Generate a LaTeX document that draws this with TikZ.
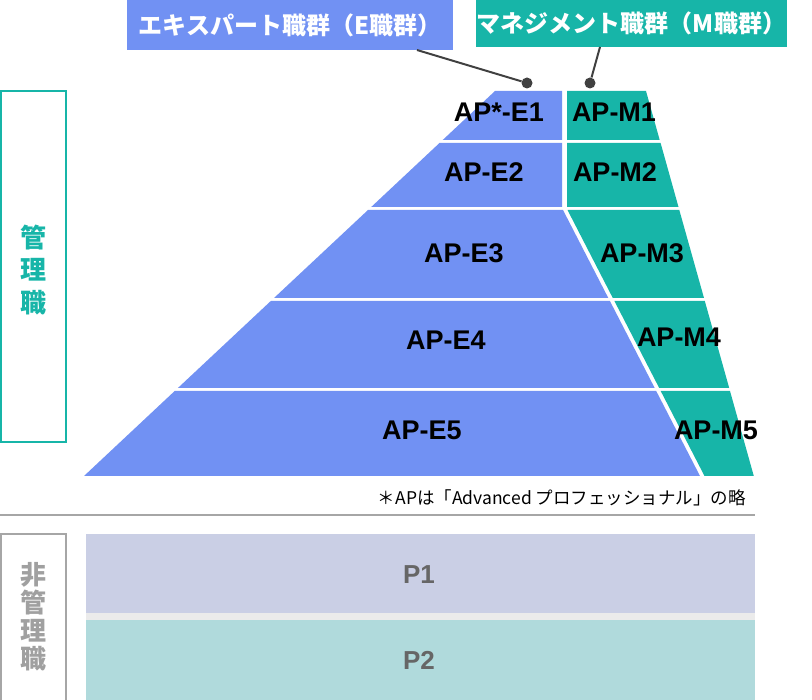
\documentclass[tikz,border=0pt]{standalone}
\usepackage{fontspec}
\setmainfont{Liberation Sans}
\newfontfamily\jp{Noto Sans CJK JP}
\definecolor{eblue}{RGB}{113,145,243}
\definecolor{mteal}{RGB}{23,181,168}
\definecolor{dk}{RGB}{64,64,64}
\definecolor{pone}{RGB}{202,207,229}
\definecolor{ptwo}{RGB}{176,218,220}
\definecolor{pgap}{RGB}{235,235,235}
\definecolor{gline}{RGB}{166,166,166}
\definecolor{ptext}{RGB}{102,102,102}
\definecolor{ntext}{RGB}{160,160,160}
\begin{document}
\begin{tikzpicture}[x=1pt,y=-1pt,
  aplab/.style={font=\fontsize{27}{30}\selectfont\bfseries, text=black, inner sep=0pt},
  hdr/.style={font=\jp\bfseries\fontsize{24}{28}\selectfont, text=white, inner sep=0pt},
  dotnode/.style={circle, fill=dk, inner sep=0pt, minimum size=11pt},
  conn/.style={draw=dk, line width=2pt},
  vlab/.style={font=\jp\bfseries\fontsize{26}{32.5}\selectfont, align=center, inner sep=0pt},
  plab/.style={font=\fontsize{26}{30}\selectfont\bfseries, text=ptext, inner sep=0pt}]
\useasboundingbox (0,0) rectangle (812,700);

% ---- pyramid: expert (blue) ----
\fill[eblue] (495,91) -- (562,91) -- (562,140) -- (442.7,140) -- cycle;
\fill[eblue] (439.5,143) -- (562,143) -- (562,207) -- (371.2,207) -- cycle;
\fill[eblue] (368,210) -- (563,210) -- (608.3,298) -- (274,298) -- cycle;
\fill[eblue] (270.8,301) -- (609.9,301) -- (654.7,388) -- (177.9,388) -- cycle;
\fill[eblue] (174.7,391) -- (656.2,391) -- (700,476) -- (84,476) -- cycle;
% ---- pyramid: management (teal) ----
\fill[mteal] (567,91) -- (646,91) -- (659.7,140) -- (567,140) -- cycle;
\fill[mteal] (567,143) -- (660.6,143) -- (678.5,207) -- (567,207) -- cycle;
\fill[mteal] (567.5,210) -- (679.3,210) -- (704,298) -- (612.8,298) -- cycle;
\fill[mteal] (614.4,301) -- (704.8,301) -- (729.2,388) -- (659.2,388) -- cycle;
\fill[mteal] (660.7,391) -- (730,391) -- (753.8,476) -- (704.5,476) -- cycle;

% ---- labels ----
\node[aplab] (e1) at (499,112) {AP*-E1};
\node[aplab] (e2) at (484,172) {AP-E2};
\node[aplab] (e3) at (464,253) {AP-E3};
\node[aplab] (e4) at (446,340) {AP-E4};
\node[aplab] (e5) at (422,430) {AP-E5};
\node[aplab] (m1) at (614,112) {AP-M1};
\node[aplab] (m2) at (615,172) {AP-M2};
\node[aplab] (m3) at (642,253) {AP-M3};
\node[aplab] (m4) at (679,337) {AP-M4};
\node[aplab] (m5) at (716,430) {AP-M5};

% ---- headers ----
\node[hdr, fill=eblue, minimum width=326pt, minimum height=50pt] (ehead) at (290,25) {エキスパート職群（E職群）};
\node[hdr, fill=mteal, minimum width=311pt, minimum height=47pt] (mhead) at (631.5,23.5) {マネジメント職群（M職群）};
\coordinate (ea) at (417,50);
\coordinate (ma) at (600,47);
\node[dotnode] (edot) at (527,83) {};
\node[dotnode] (mdot) at (590,83) {};
\draw[conn] (ea) -- (edot);
\draw[conn] (ma) -- (mdot);

% ---- side box: management ----
\draw[draw=mteal, line width=2pt] (1,91) rectangle (66,442);
\node[vlab, text=mteal] (kanri) at (33.5,270) {管\\理\\職};

% ---- note and separator ----
\node[font=\jp\fontsize{17.5}{20}\selectfont, anchor=east, inner sep=0pt] (note) at (746,498) {＊APは「Advanced プロフェッショナル」の略};
\draw[draw=gline, line width=2pt] (0,515) -- (755,515);

% ---- non-management ----
\fill[pone] (86,534) rectangle (755,613);
\fill[pgap] (86,613) rectangle (755,619.5);
\fill[ptwo] (86,619.5) rectangle (755,700);
\node[plab] (p1) at (419,575) {P1};
\node[plab] (p2) at (419,660) {P2};
\draw[draw=gline, line width=1.5pt] (0.75,704) -- (0.75,534) -- (66,534) -- (66,704);
\node[vlab, text=ntext, font=\jp\bfseries\fontsize{26}{28}\selectfont] (hikanri) at (33.5,617) {非\\管\\理\\職};
\end{tikzpicture}
\end{document}
